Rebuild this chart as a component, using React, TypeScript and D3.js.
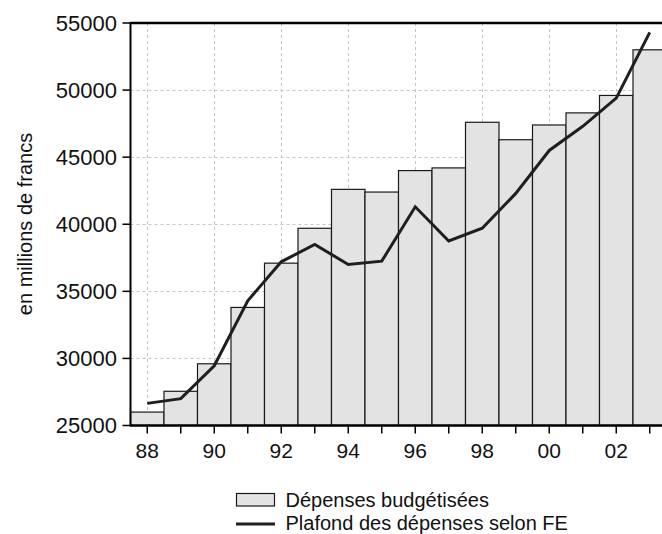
// @ts-nocheck
import * as d3 from "d3"
import { useEffect, useRef } from "react"
import * as React from "react"

const years = [1988, 1989, 1990, 1991, 1992, 1993, 1994, 1995, 1996, 1997, 1998, 1999, 2000, 2001, 2002, 2003]
const budget = [26000, 27550, 29600, 33800, 37100, 39700, 42600, 42400, 44000, 44200, 47600, 46300, 47400, 48300, 49600, 53000]
const ceiling = [26650, 27000, 29450, 34300, 37200, 38500, 37000, 37250, 41300, 38750, 39700, 42300, 45500, 47300, 49400, 54300]
const yTicks = [25000, 30000, 35000, 40000, 45000, 50000, 55000]
const gridYears = [1988, 1990, 1992, 1994, 1996, 1998, 2000, 2002]

const W = 662
const H = 534
const font = "'Liberation Sans', Arial, sans-serif"

function buildSVG(svgEl: SVGSVGElement) {
  const svg = d3.select(svgEl)
  svg.selectAll("*").remove()

  const left = 130.5, top = 23, bottom = 425.5
  const x = d3.scaleLinear().domain([1987.5, 2003.5]).range([left, left + 16 * 33.5])
  const y = d3.scaleLinear().domain([25000, 55000]).range([bottom, top])

  // grid
  const grid = svg.append("g").attr("stroke", "#c4c4c4").attr("stroke-dasharray", "3,3").attr("stroke-width", 1)
  grid.selectAll("line.gy").data(yTicks.slice(1, -1)).join("line")
    .attr("x1", left).attr("x2", W).attr("y1", d => Math.round(y(d)) + 0.5).attr("y2", d => Math.round(y(d)) + 0.5)
  grid.selectAll("line.gx").data(gridYears).join("line")
    .attr("x1", d => Math.round(x(d)) + 0.5).attr("x2", d => Math.round(x(d)) + 0.5).attr("y1", top).attr("y2", bottom)

  // bars
  svg.append("g").selectAll("rect").data(years).join("rect")
    .attr("x", d => x(d - 0.5))
    .attr("width", x(1) - x(0))
    .attr("y", (d, i) => y(budget[i]))
    .attr("height", (d, i) => bottom - y(budget[i]))
    .attr("fill", "#e3e3e3")
    .attr("stroke", "#1a1a1a")
    .attr("stroke-width", 1.2)

  // line
  const line = d3.line().x((d, i) => x(years[i])).y(d => y(d))
  svg.append("path").datum(ceiling).attr("d", line)
    .attr("fill", "none").attr("stroke", "#1f1f1f").attr("stroke-width", 3).attr("stroke-linejoin", "miter")

  // frame
  svg.append("line").attr("x1", left).attr("x2", W).attr("y1", top).attr("y2", top).attr("stroke", "#000").attr("stroke-width", 2.5)
  svg.append("line").attr("x1", left).attr("x2", W).attr("y1", bottom).attr("y2", bottom).attr("stroke", "#000").attr("stroke-width", 2.5)
  svg.append("line").attr("x1", left).attr("x2", left).attr("y1", top - 1).attr("y2", bottom + 1).attr("stroke", "#000").attr("stroke-width", 2)

  // y axis
  const ya = svg.append("g")
  ya.selectAll("line").data(yTicks).join("line")
    .attr("x1", left - 8).attr("x2", left).attr("y1", d => y(d)).attr("y2", d => y(d))
    .attr("stroke", "#000").attr("stroke-width", 1.5)
  ya.selectAll("text").data(yTicks).join("text")
    .attr("x", 117).attr("y", d => y(d)).attr("dy", "0.36em")
    .attr("text-anchor", "end").attr("font-family", font).attr("font-size", 22).attr("fill", "#111")
    .text(d => d)

  // x axis
  const xa = svg.append("g")
  xa.selectAll("line").data(years).join("line")
    .attr("x1", d => x(d)).attr("x2", d => x(d)).attr("y1", bottom).attr("y2", bottom + 8)
    .attr("stroke", "#000").attr("stroke-width", 1.5)
  xa.selectAll("text").data(gridYears).join("text")
    .attr("x", d => x(d)).attr("y", 457.5)
    .attr("text-anchor", "middle").attr("font-family", font).attr("font-size", 21).attr("fill", "#111")
    .text(d => String(d % 100).padStart(2, "0"))

  // y title
  svg.append("text")
    .attr("transform", `translate(32,224) rotate(-90)`)
    .attr("text-anchor", "middle").attr("font-family", font).attr("font-size", 20).attr("fill", "#111")
    .text("en millions de francs")

  // legend
  const lg = svg.append("g").attr("font-family", font).attr("font-size", 20).attr("fill", "#111")
  lg.append("rect").attr("x", 236.5).attr("y", 493.5).attr("width", 38).attr("height", 12.5)
    .attr("fill", "#e3e3e3").attr("stroke", "#1a1a1a").attr("stroke-width", 1.2)
  lg.append("text").attr("x", 285.5).attr("y", 506.5).text("Dépenses budgétisées")
  lg.append("line").attr("x1", 236).attr("x2", 275).attr("y1", 524).attr("y2", 524)
    .attr("stroke", "#1f1f1f").attr("stroke-width", 3.2)
  lg.append("text").attr("x", 285.5).attr("y", 529.5).text("Plafond des dépenses selon FE")
}

export default function App() {
  const ref = useRef<SVGSVGElement>(null)
  useEffect(() => {
    buildSVG(ref.current)
  }, [])
  return (
    <svg ref={ref} width={W} height={H}
      style={{ position: "absolute", left: 0, top: 0, background: "#fff" }} />
  )
}
